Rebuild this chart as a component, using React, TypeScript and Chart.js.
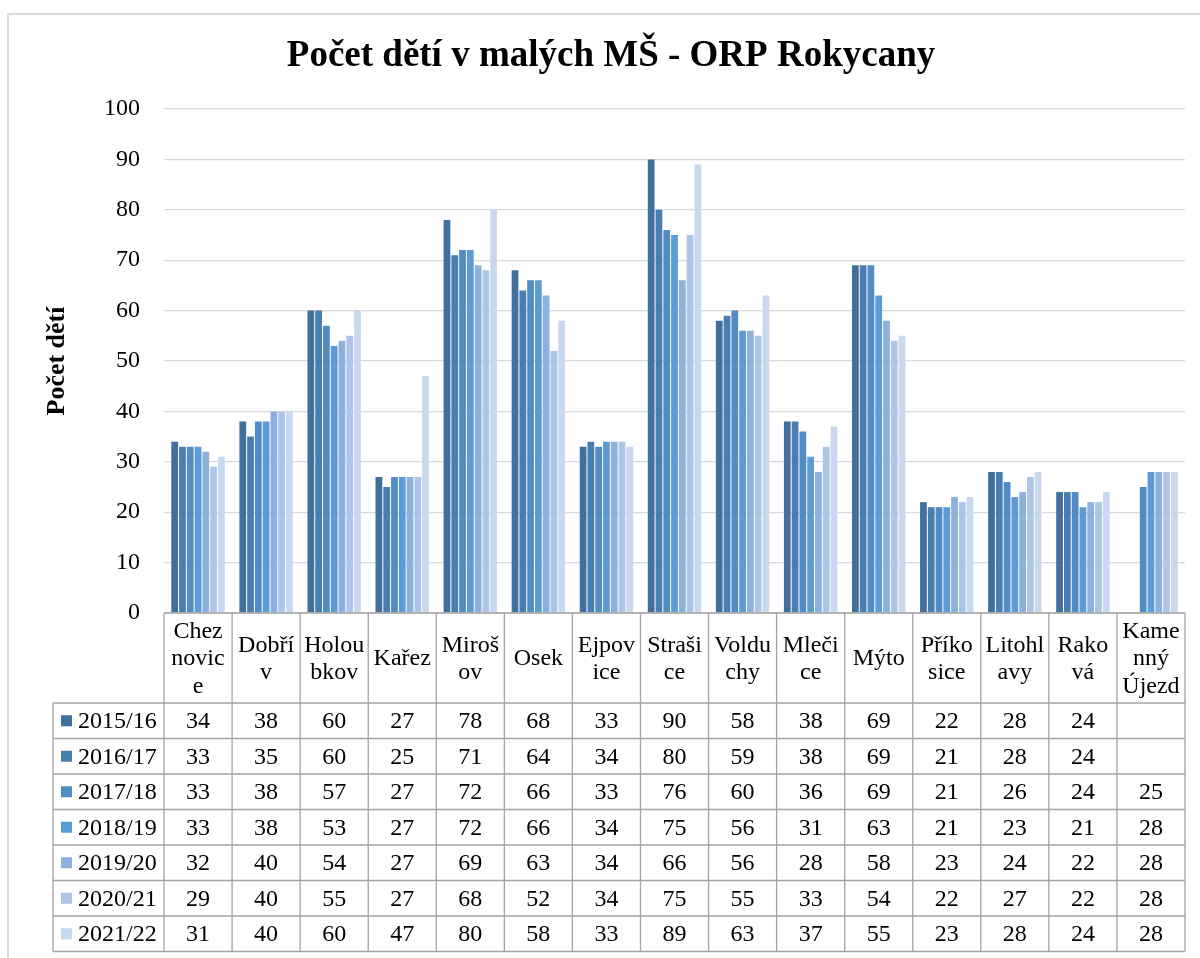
import React, { useEffect, useRef } from "react";
import { Chart, registerables } from "chart.js";

Chart.register(...registerables);

const TITLE = "Počet dětí v malých MŠ - ORP Rokycany";
const Y_TITLE = "Počet dětí";

const categories: string[][] = [
  ["Chez", "novic", "e"],
  ["Dobří", "v"],
  ["Holou", "bkov"],
  ["Kařez"],
  ["Miroš", "ov"],
  ["Osek"],
  ["Ejpov", "ice"],
  ["Straši", "ce"],
  ["Voldu", "chy"],
  ["Mleči", "ce"],
  ["Mýto"],
  ["Příko", "sice"],
  ["Litohl", "avy"],
  ["Rako", "vá"],
  ["Kame", "nný", "Újezd"],
];

const seriesLabels = ["2015/16", "2016/17", "2017/18", "2018/19", "2019/20", "2020/21", "2021/22"];

const s201516 = [34, 38, 60, 27, 78, 68, 33, 90, 58, 38, 69, 22, 28, 24, null];
const s201617 = [33, 35, 60, 25, 71, 64, 34, 80, 59, 38, 69, 21, 28, 24, null];
const s201718 = [33, 38, 57, 27, 72, 66, 33, 76, 60, 36, 69, 21, 26, 24, 25];
const s201819 = [33, 38, 53, 27, 72, 66, 34, 75, 56, 31, 63, 21, 23, 21, 28];
const s201920 = [32, 40, 54, 27, 69, 63, 34, 66, 56, 28, 58, 23, 24, 22, 28];
const s202021 = [29, 40, 55, 27, 68, 52, 34, 75, 55, 33, 54, 22, 27, 22, 28];
const s202122 = [31, 40, 60, 47, 80, 58, 33, 89, 63, 37, 55, 23, 28, 24, 28];

const seriesValues = [s201516, s201617, s201718, s201819, s201920, s202021, s202122];

const seriesColors = ["#41709d", "#4a7eb1", "#538cc5", "#5c9bd6", "#8db0dd", "#adc5e6", "#c8d8ee"];

const yTicks = [0, 10, 20, 30, 40, 50, 60, 70, 80, 90, 100];

const FONT = '"Liberation Serif", "Times New Roman", serif';

const W = 1200;
const H = 958;
const HEADER_BOTTOM = 703;
const ROW_H = 35.5;
const LEGEND_LEFT = 53;

const tablePlugin = {
  id: "dataTable",
  beforeDraw(chart: any) {
    const ctx = chart.ctx;
    ctx.save();
    ctx.fillStyle = "#ffffff";
    ctx.fillRect(0, 0, W, H);
    ctx.strokeStyle = "#d9d9d9";
    ctx.lineWidth = 2;
    ctx.strokeRect(8, 14, W + 20, H + 20);
    ctx.restore();
  },
  afterDraw(chart: any) {
    const ctx = chart.ctx;
    const area = chart.chartArea;
    const xs = chart.scales.x;
    const n = categories.length;
    const colW = (area.right - area.left) / n;
    const top = area.bottom;
    const rowsBottom = HEADER_BOTTOM + ROW_H * seriesLabels.length;
    ctx.save();
    ctx.strokeStyle = "#a3a3a3";
    ctx.lineWidth = 1.3;
    ctx.beginPath();
    ctx.moveTo(area.left, top);
    ctx.lineTo(area.right, top);
    for (let i = 0; i <= n; i++) {
      const x = xs.getPixelForValue(i) - colW / 2;
      ctx.moveTo(x, top);
      ctx.lineTo(x, rowsBottom);
    }
    ctx.moveTo(LEGEND_LEFT, HEADER_BOTTOM);
    ctx.lineTo(LEGEND_LEFT, rowsBottom);
    for (let r = 0; r <= seriesLabels.length; r++) {
      const y = HEADER_BOTTOM + r * ROW_H;
      ctx.moveTo(LEGEND_LEFT, y);
      ctx.lineTo(area.right, y);
    }
    ctx.stroke();

    ctx.fillStyle = "#000000";
    ctx.font = `24px ${FONT}`;
    ctx.textAlign = "center";
    ctx.textBaseline = "middle";
    const lineH = 27.5;
    const headerMid = (top + HEADER_BOTTOM) / 2;
    categories.forEach((lines, i) => {
      const cx = xs.getPixelForValue(i);
      const start = headerMid - ((lines.length - 1) * lineH) / 2;
      lines.forEach((t, k) => ctx.fillText(t, cx, start + k * lineH + 1));
    });

    seriesLabels.forEach((lab, r) => {
      const cy = HEADER_BOTTOM + r * ROW_H + ROW_H / 2;
      ctx.fillStyle = seriesColors[r];
      ctx.fillRect(LEGEND_LEFT + 8, cy - 5.5, 11, 11);
      ctx.fillStyle = "#000000";
      ctx.textAlign = "left";
      ctx.fillText(lab, LEGEND_LEFT + 25, cy + 1);
      ctx.textAlign = "center";
      seriesValues[r].forEach((v, i) => {
        if (v === null || v === undefined) return;
        ctx.fillText(String(v), xs.getPixelForValue(i), cy + 1);
      });
    });
    ctx.restore();
  },
};

export default function App() {
  const ref = useRef<HTMLCanvasElement | null>(null);
  useEffect(() => {
    if (!ref.current) return;
    const chart = new Chart(ref.current, {
      type: "bar",
      data: {
        labels: categories,
        datasets: seriesLabels.map((lab, i) => ({
          label: lab,
          data: seriesValues[i],
          backgroundColor: seriesColors[i],
          borderWidth: 0,
          categoryPercentage: 0.8,
          barPercentage: 0.87,
        })),
      },
      options: {
        animation: false,
        responsive: false,
        devicePixelRatio: 1,
        layout: { padding: { left: 37, right: 15, top: 9, bottom: H - 613 } },
        plugins: {
          legend: { display: false },
          tooltip: { enabled: false },
          title: {
            display: true,
            text: TITLE,
            color: "#000000",
            font: { family: FONT, size: 37, weight: "bold" },
            padding: { top: 25, bottom: 30.6 },
          },
        },
        scales: {
          x: { display: false },
          y: {
            min: 0,
            max: 100,
            afterBuildTicks: (scale: any) => {
              scale.ticks = yTicks.map((v) => ({ value: v }));
            },
            afterFit: (scale: any) => {
              scale.width = 127;
            },
            border: { display: false },
            grid: { color: "#d9d9d9", lineWidth: 1.3, drawTicks: false },
            ticks: {
              color: "#000000",
              padding: 24,
              font: { family: FONT, size: 24 },
            },
            title: {
              display: true,
              text: Y_TITLE,
              color: "#000000",
              font: { family: FONT, size: 26, weight: "bold" },
              padding: { top: 5, bottom: 0 },
            },
          },
        },
      },
      plugins: [tablePlugin],
    });
    return () => chart.destroy();
  }, []);
  return (
    <div style={{ position: "absolute", left: 0, top: 0, width: W, height: H }}>
      <canvas ref={ref} width={W} height={H} />
    </div>
  );
}
